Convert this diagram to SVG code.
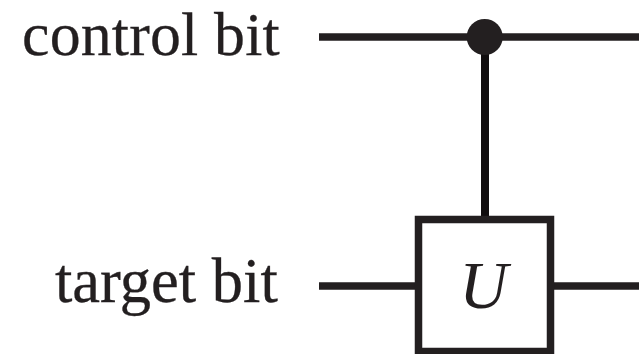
<svg xmlns="http://www.w3.org/2000/svg" width="639" height="354" viewBox="0 0 639 354">
<style>
.w{stroke:#231f20;stroke-width:7.5;fill:none}
.t{font-family:"Liberation Serif",serif;font-size:61.800px;letter-spacing:.2px;fill:#231f20;stroke:#231f20;stroke-width:.3}
</style>
<rect width="639" height="354" fill="#fff"/>
<g id="connectors">
<path class="w" d="M319 37H639"/>
<path class="w" d="M485 37V218" style="stroke:#100d0e;stroke-width:8"/>
<path class="w" d="M319 286H418"/>
<path class="w" d="M551 286H639"/>
</g>
<g id="control-dot"><circle cx="484.7" cy="37" r="18" fill="#231f20"/></g>
<g id="gate-u">
<rect x="418.500" y="219.500" width="132" height="132" fill="#fff" stroke="#231f20" stroke-width="7.500"/>
<text x="483.500" y="308" text-anchor="middle" font-style="italic" font-family="Liberation Serif, serif" font-size="67" fill="#231f20">U</text>
</g>
<g id="label-control"><text class="t" x="22" y="55.200">control bit</text></g>
<g id="label-target"><text class="t" x="55" y="302" style="font-size:62.500px;letter-spacing:0">target bit</text></g>
</svg>
